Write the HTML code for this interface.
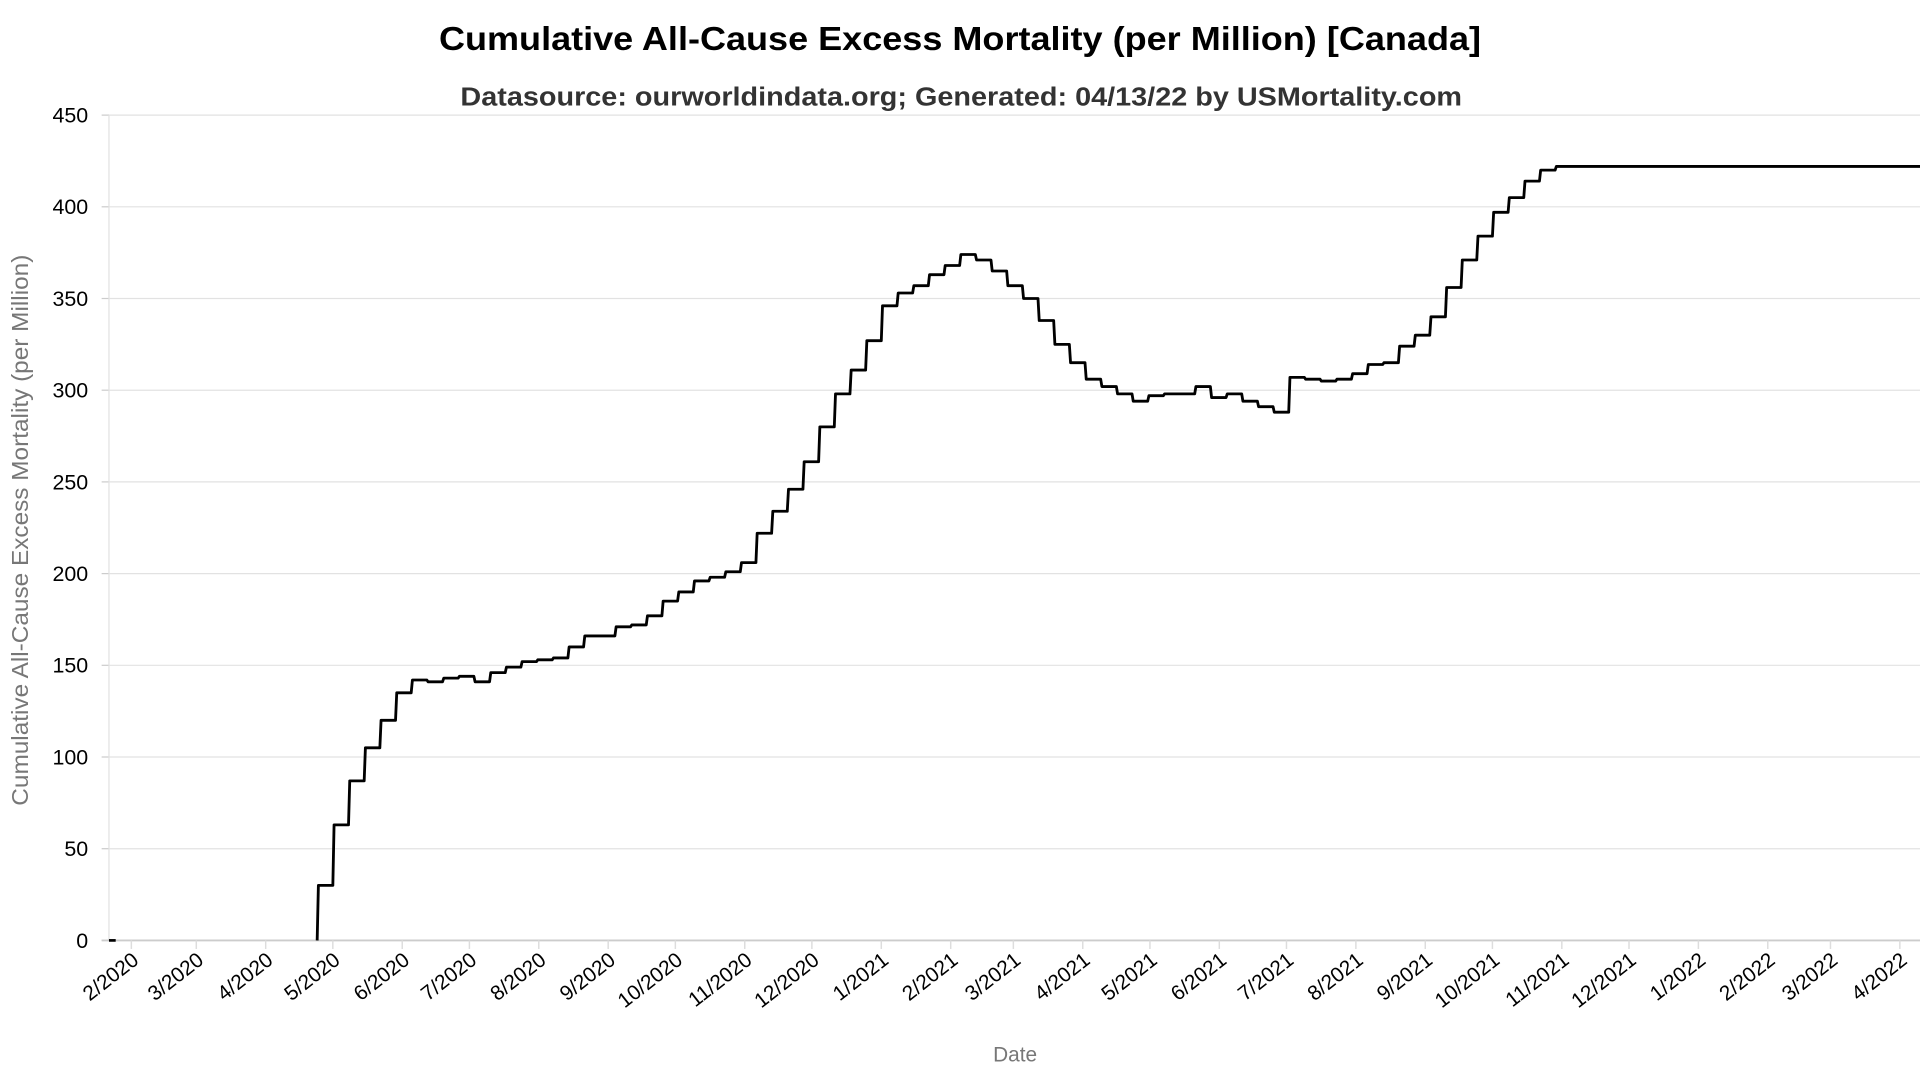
<!DOCTYPE html>
<html><head><meta charset="utf-8"><style>
html,body{margin:0;padding:0;background:#fff;}
svg{display:block;font-family:"Liberation Sans",Arial,sans-serif;}
</style></head><body>
<svg id="chart" width="1920" height="1080" viewBox="0 0 1568 882" preserveAspectRatio="none" xmlns="http://www.w3.org/2000/svg">
<text x="784" y="41" text-anchor="middle" font-size="27.5" font-weight="bold" fill="#000" textLength="851" lengthAdjust="spacingAndGlyphs">Cumulative All-Cause Excess Mortality (per Million) [Canada]</text>
<text x="785" y="86" text-anchor="middle" font-size="21" font-weight="bold" fill="#333" textLength="818" lengthAdjust="spacingAndGlyphs">Datasource: ourworldindata.org; Generated: 04/13/22 by USMortality.com</text>
<text transform="translate(23,433) rotate(-90)" text-anchor="middle" font-size="18.5" fill="#777" textLength="450" lengthAdjust="spacingAndGlyphs">Cumulative All-Cause Excess Mortality (per Million)</text>
<text x="829" y="867" text-anchor="middle" font-size="17" fill="#777">Date</text>
<g id="grid"></g><g id="axes"></g><g id="series"></g>
</svg>
<script>
const yTicks = [0,50,100,150,200,250,300,350,400,450];
const xTickLabels = ["2/2020","3/2020","4/2020","5/2020","6/2020","7/2020","8/2020","9/2020","10/2020","11/2020","12/2020","1/2021","2/2021","3/2021","4/2021","5/2021","6/2021","7/2021","8/2021","9/2021","10/2021","11/2021","12/2021","1/2022","2/2022","3/2022","4/2022"];
const seriesStart = "2020-04-24";
const values = [30,63,87,105,120,135,142,141,143,144,141,146,149,152,153,154,160,166,166,171,172,177,185,190,196,198,201,206,222,234,246,261,280,298,311,327,346,353,357,363,368,374,371,365,357,350,338,325,315,306,302,298,294,297,298,298,302,296,298,294,291,288,307,306,305,306,309,314,315,324,330,340,356,371,384,397,405,414,420,422];
const earlyDates = ["2020-01-22","2020-01-25"];
const earlyValues = [0,0];

const NS="http://www.w3.org/2000/svg";
const X0=89,X1=1568,Y0=768,Y1=94;
const dMin=Date.parse("2020-01-22"),dMax=Date.parse("2022-04-10");
function xs(d){return X0+(Date.parse(d)-dMin)/(dMax-dMin)*(X1-X0);}
function xsT(t){return X0+(t-dMin)/(dMax-dMin)*(X1-X0);}
function ys(v){return Y0-(v-0)/(450-0)*(Y0-Y1);}
function mk(tag,attrs,parent){const e=document.createElementNS(NS,tag);for(const k in attrs)e.setAttribute(k,attrs[k]);parent.appendChild(e);return e;}
const grid=document.getElementById('grid'),axes=document.getElementById('axes'),series=document.getElementById('series');
yTicks.forEach(v=>{
  if(v>0){const g=mk('line',{x1:X0,x2:X1,y1:ys(v),y2:ys(v),stroke:'#e2e2e2','stroke-width':1},grid);
  
  }
  const t=mk('line',{x1:X0-6,x2:X0,y1:ys(v),y2:ys(v),stroke:'#ccc','stroke-width':1},axes);
  
  
  const l=mk('text',{x:X0-17,y:ys(v)+6,'text-anchor':'end','font-size':17.5,fill:'#000'},axes);
  l.textContent=v;
  
  
});
const ya=mk('line',{x1:X0,x2:X0,y1:Y1,y2:Y0,stroke:'#e2e2e2','stroke-width':1},axes);


const xa=mk('line',{x1:X0-6,x2:X1,y1:Y0,y2:Y0,stroke:'#ccc','stroke-width':1.5},axes);


xTickLabels.forEach(lab=>{
  const p=lab.split('/');const d=p[1]+'-'+(p[0].length<2?'0'+p[0]:p[0])+'-01';
  const x=xs(d);
  const t=mk('line',{x1:x,x2:x,y1:Y0,y2:Y0+7,stroke:'#ddd','stroke-width':1.2},axes);
  
  
  const l=mk('text',{transform:`translate(${x+7},${Y0+18}) rotate(-38)`,'text-anchor':'end','font-size':17,fill:'#000'},axes);
  l.textContent=lab;
  
  
});
const e=mk('path',{d:`M${xs(earlyDates[0])},${ys(earlyValues[0])}H${xs(earlyDates[1])}`,stroke:'#000','stroke-width':2.2,fill:'none'},series);


const t0=Date.parse(seriesStart),wk=7*864e5;
let d=`M${xsT(t0)},${ys(0)}`;
values.forEach((v,i)=>{const x=xsT(t0+i*wk);d+=`L${x+1},${ys(v)}H${xsT(t0+(i+1)*wk)}`;});
d+=`H${X1}`;
const line=mk('path',{d:d,stroke:'#000','stroke-width':2.3,fill:'none','stroke-linejoin':'round'},series);


</script>
</body></html>
